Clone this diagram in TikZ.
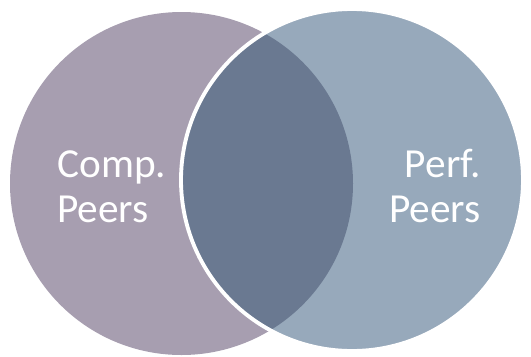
\documentclass[tikz,border=0pt]{standalone}
\usepackage{fontspec}
\setmainfont{Carlito}
\definecolor{compcol}{RGB}{167,158,176}
\definecolor{perfcol}{RGB}{151,169,187}
\definecolor{bothcol}{RGB}{106,121,145}
\tikzset{peerlabel/.style={text=white, inner sep=0pt, font=\fontsize{23.5}{25.5}\selectfont}}

\begin{document}
\begin{tikzpicture}[x=0.02cm, y=-0.02cm]
\useasboundingbox (0,0) rectangle (531,356);
\coordinate (L) at (181.5,183.5);
\coordinate (R) at (352,180);
\fill[compcol](L) circle (171.5);
\fill[perfcol](R) circle (170);
\begin{scope}
\clip (L) circle (171.5);
\fill[bothcol](R) circle (170);
\end{scope}
\draw[white, line width=2.2pt](R) circle (171);
\node[peerlabel, align=left, anchor=base west] (comp) at (57,222) {Comp.\\Peers};
\node[peerlabel, align=right, anchor=base east] (perf) at (481,222) {Perf.\\Peers};
\end{tikzpicture}
\end{document}
